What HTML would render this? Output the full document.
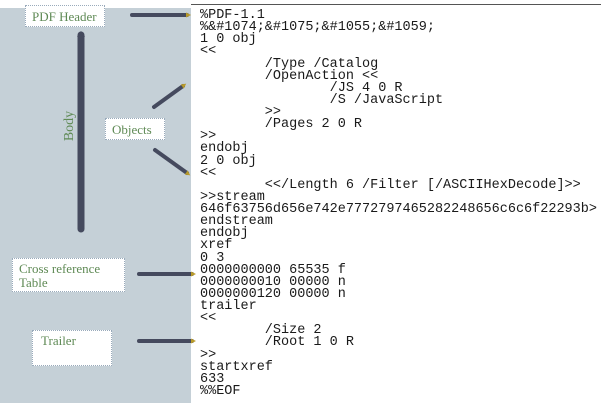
<!DOCTYPE html>
<html><head><meta charset="utf-8"><style>
html,body{margin:0;padding:0;background:#fff;}
body{width:613px;height:403px;position:relative;overflow:hidden;font-family:"Liberation Serif",serif;}
.gray{position:absolute;left:0;top:8px;width:191px;height:395px;background:#c5d0d7;}
.topline{position:absolute;left:191px;top:4px;width:410px;height:1px;background:#555;}
.box{position:absolute;background:#fff;border:1px dotted #9ab;color:#5f8a55;font-size:13px;box-sizing:border-box;padding:3px 6px;line-height:14px;}
pre{position:absolute;left:200px;top:10px;margin:0;font-family:"Liberation Mono",monospace;font-size:13.5px;line-height:12.13px;color:#1a1a1a;}
</style></head><body>
<div class="gray"></div>
<div class="topline"></div>
<div class="box" style="left:25px;top:5px;width:80px;height:22px;padding-top:4px;">PDF Header</div>
<div class="box" style="left:105px;top:118px;width:60px;height:22px;padding-top:4px;">Objects</div>
<div class="box" style="left:12px;top:258px;width:113px;height:34px;">Cross reference<br>Table</div>
<div class="box" style="left:32px;top:330px;width:80px;height:36px;padding-left:8px;">Trailer</div>
<div style="position:absolute;left:50px;top:118px;transform:rotate(-90deg);transform-origin:center;color:#5f8a55;font-size:14px;width:40px;text-align:center;">Body</div>
<svg width="613" height="403" style="position:absolute;left:0;top:0">
<defs><marker id="a" markerUnits="userSpaceOnUse" markerWidth="6" markerHeight="6" refX="1" refY="3" orient="auto"><path d="M0,0.5L5,3L0,5.5z" fill="#b89a2a"/></marker></defs>
<g stroke="#454a5e" stroke-width="4" stroke-linecap="round">
<line x1="81" y1="35" x2="81" y2="229" stroke-width="7"/>
<line x1="132" y1="15" x2="187" y2="15" marker-end="url(#a)"/>
<line x1="154" y1="107" x2="183" y2="86" marker-end="url(#a)"/>
<line x1="155" y1="150" x2="187" y2="173" marker-end="url(#a)"/>
<line x1="139" y1="274" x2="192" y2="274" marker-end="url(#a)"/>
<line x1="139" y1="341" x2="192" y2="341" marker-end="url(#a)"/>
</g>
<path d="M81,31 l-4,6 h8z" fill="#454a5e"/>
</svg>
<pre>%PDF-1.1
%&amp;#1074;&amp;#1075;&amp;#1055;&amp;#1059;
1 0 obj
&lt;&lt;
        /Type /Catalog
        /OpenAction &lt;&lt;
                /JS 4 0 R
                /S /JavaScript
        &gt;&gt;
        /Pages 2 0 R
&gt;&gt;
endobj
2 0 obj
&lt;&lt;
        &lt;&lt;/Length 6 /Filter [/ASCIIHexDecode]&gt;&gt;
&gt;&gt;stream
646f63756d656e742e7772797465282248656c6c6f22293b&gt;
endstream
endobj
xref
0 3
0000000000 65535 f
0000000010 00000 n
0000000120 00000 n
trailer
&lt;&lt;
        /Size 2
        /Root 1 0 R
&gt;&gt;
startxref
633
%%EOF</pre>
</body></html>
